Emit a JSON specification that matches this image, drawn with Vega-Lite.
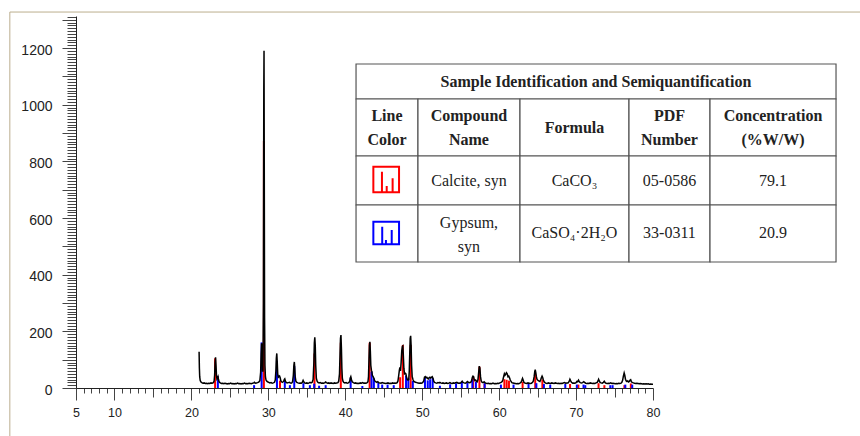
{
  "$schema": "https://vega.github.io/schema/vega-lite/v6.json",
  "width": 577,
  "height": 372,
  "autosize": "none",
  "padding": {"left": 76, "top": 16, "right": 207, "bottom": 48},
  "background": "white",
  "config": {"view": {"stroke": null}, "font": "Liberation Sans"},
  "encoding": {
    "x": {
      "type": "quantitative",
      "scale": {"domain": [5, 80], "nice": false, "zero": false},
      "axis": {
        "title": null, "grid": false,
        "values": [5,6,7,8,9,10,11,12,13,14,15,16,17,18,19,20,21,22,23,24,25,26,27,28,29,30,31,32,33,34,35,36,37,38,39,40,41,42,43,44,45,46,47,48,49,50,51,52,53,54,55,56,57,58,59,60,61,62,63,64,65,66,67,68,69,70,71,72,73,74,75,76,77,78,79,80],
        "format": "d",
        "labelExpr": "(datum.value % 10 === 0 || datum.value === 5) ? datum.label : ''",
        "labelOverlap": false, "labelFlush": false,
        "tickSize": {"condition": [{"test": "datum.value % 10 === 0 || datum.value === 5", "value": 12}, {"test": "datum.value % 5 === 0", "value": 9}], "value": 5},
        "tickColor": "#444444", "tickWidth": 1,
        "domainColor": "#222222", "domainWidth": 1,
        "labelFont": "Liberation Sans", "labelFontSize": 12.5, "labelColor": "#222222",
        "labelBaseline": "middle", "labelPadding": 12
      }
    },
    "y": {
      "type": "quantitative",
      "scale": {"domain": [0, 1313], "nice": false},
      "axis": {
        "title": null, "grid": false,
        "values": [0,10,20,30,40,50,60,70,80,90,100,110,120,130,140,150,160,170,180,190,200,210,220,230,240,250,260,270,280,290,300,310,320,330,340,350,360,370,380,390,400,410,420,430,440,450,460,470,480,490,500,510,520,530,540,550,560,570,580,590,600,610,620,630,640,650,660,670,680,690,700,710,720,730,740,750,760,770,780,790,800,810,820,830,840,850,860,870,880,890,900,910,920,930,940,950,960,970,980,990,1000,1010,1020,1030,1040,1050,1060,1070,1080,1090,1100,1110,1120,1130,1140,1150,1160,1170,1180,1190,1200,1210,1220,1230,1240,1250,1260,1270,1280,1290,1300,1310],
        "format": "d",
        "labelExpr": "datum.value % 200 === 0 ? datum.label : ''",
        "labelOverlap": false, "labelFlush": false,
        "tickSize": {"condition": {"test": "datum.value % 100 === 0", "value": 14}, "value": 9},
        "tickColor": "#444444", "tickWidth": 1,
        "domainColor": "#222222", "domainWidth": 1,
        "labelFont": "Liberation Sans", "labelFontSize": 14, "labelColor": "#222222",
        "labelPadding": 10, "labelOffset": 2
      }
    }
  },
  "datasets": {
    "obs": [
      {"t":21.00,"c":128},{"t":21.04,"c":70},{"t":21.08,"c":40},{"t":21.14,"c":27},{"t":21.22,"c":22},{"t":21.35,"c":19},{"t":21.5,"c":17},{"t":21.65,"c":18},{"t":21.8,"c":16},{"t":21.95,"c":17},{"t":22.1,"c":15},{"t":22.25,"c":17},{"t":22.4,"c":16},{"t":22.55,"c":18},{"t":22.7,"c":17},{"t":22.85,"c":19},{"t":22.95,"c":24},{"t":23.02,"c":45},{"t":23.08,"c":90},{"t":23.14,"c":108},{"t":23.2,"c":80},{"t":23.26,"c":45},{"t":23.32,"c":32},{"t":23.4,"c":36},{"t":23.46,"c":40},{"t":23.52,"c":30},{"t":23.6,"c":22},{"t":23.75,"c":18},{"t":23.9,"c":16},{"t":24.05,"c":17},{"t":24.2,"c":15},{"t":24.35,"c":17},{"t":24.5,"c":16},{"t":24.65,"c":14},{"t":24.8,"c":16},{"t":24.95,"c":15},{"t":25.1,"c":17},{"t":25.25,"c":15},{"t":25.4,"c":16},{"t":25.55,"c":14},{"t":25.7,"c":16},{"t":25.85,"c":15},{"t":26.0,"c":17},{"t":26.15,"c":15},{"t":26.3,"c":16},{"t":26.45,"c":14},{"t":26.6,"c":16},{"t":26.75,"c":15},{"t":26.9,"c":17},{"t":27.05,"c":15},{"t":27.2,"c":16},{"t":27.35,"c":15},{"t":27.5,"c":17},{"t":27.65,"c":16},{"t":27.8,"c":15},{"t":27.95,"c":17},{"t":28.1,"c":18},{"t":28.2,"c":20},{"t":28.3,"c":17},{"t":28.45,"c":18},{"t":28.6,"c":19},{"t":28.75,"c":21},{"t":28.9,"c":26},{"t":29.0,"c":55},{"t":29.06,"c":120},{"t":29.12,"c":158},{"t":29.18,"c":110},{"t":29.24,"c":60},{"t":29.3,"c":60},{"t":29.36,"c":300},{"t":29.41,"c":1050},{"t":29.44,"c":1190},{"t":29.47,"c":800},{"t":29.51,"c":250},{"t":29.56,"c":80},{"t":29.62,"c":40},{"t":29.7,"c":28},{"t":29.8,"c":24},{"t":29.9,"c":22},{"t":30.05,"c":20},{"t":30.2,"c":18},{"t":30.35,"c":19},{"t":30.5,"c":17},{"t":30.65,"c":18},{"t":30.8,"c":20},{"t":30.9,"c":28},{"t":30.98,"c":60},{"t":31.04,"c":105},{"t":31.1,"c":122},{"t":31.16,"c":90},{"t":31.22,"c":50},{"t":31.3,"c":38},{"t":31.38,"c":40},{"t":31.46,"c":42},{"t":31.54,"c":36},{"t":31.62,"c":26},{"t":31.72,"c":22},{"t":31.82,"c":20},{"t":31.92,"c":22},{"t":32.0,"c":24},{"t":32.08,"c":30},{"t":32.14,"c":32},{"t":32.22,"c":24},{"t":32.32,"c":20},{"t":32.45,"c":18},{"t":32.6,"c":19},{"t":32.75,"c":20},{"t":32.85,"c":18},{"t":32.95,"c":17},{"t":33.05,"c":18},{"t":33.15,"c":22},{"t":33.25,"c":45},{"t":33.32,"c":80},{"t":33.38,"c":92},{"t":33.44,"c":70},{"t":33.5,"c":38},{"t":33.58,"c":24},{"t":33.7,"c":20},{"t":33.85,"c":18},{"t":34.0,"c":17},{"t":34.15,"c":18},{"t":34.3,"c":17},{"t":34.42,"c":20},{"t":34.52,"c":27},{"t":34.6,"c":22},{"t":34.72,"c":18},{"t":34.85,"c":17},{"t":35.0,"c":18},{"t":35.15,"c":16},{"t":35.3,"c":18},{"t":35.42,"c":20},{"t":35.55,"c":18},{"t":35.7,"c":20},{"t":35.82,"c":30},{"t":35.92,"c":90},{"t":35.98,"c":160},{"t":36.04,"c":179},{"t":36.1,"c":150},{"t":36.16,"c":80},{"t":36.24,"c":35},{"t":36.34,"c":24},{"t":36.45,"c":20},{"t":36.6,"c":18},{"t":36.75,"c":19},{"t":36.9,"c":17},{"t":37.05,"c":18},{"t":37.2,"c":17},{"t":37.35,"c":19},{"t":37.45,"c":21},{"t":37.55,"c":19},{"t":37.7,"c":17},{"t":37.85,"c":18},{"t":38.0,"c":16},{"t":38.15,"c":18},{"t":38.3,"c":17},{"t":38.45,"c":16},{"t":38.6,"c":18},{"t":38.75,"c":17},{"t":38.9,"c":18},{"t":39.05,"c":19},{"t":39.15,"c":24},{"t":39.25,"c":50},{"t":39.32,"c":120},{"t":39.38,"c":175},{"t":39.44,"c":187},{"t":39.5,"c":140},{"t":39.56,"c":70},{"t":39.62,"c":35},{"t":39.7,"c":24},{"t":39.8,"c":20},{"t":39.95,"c":18},{"t":40.1,"c":19},{"t":40.25,"c":17},{"t":40.4,"c":18},{"t":40.5,"c":20},{"t":40.6,"c":26},{"t":40.66,"c":36},{"t":40.72,"c":40},{"t":40.8,"c":30},{"t":40.9,"c":22},{"t":41.05,"c":19},{"t":41.2,"c":17},{"t":41.35,"c":18},{"t":41.5,"c":16},{"t":41.65,"c":17},{"t":41.8,"c":16},{"t":41.95,"c":18},{"t":42.1,"c":17},{"t":42.25,"c":19},{"t":42.4,"c":17},{"t":42.55,"c":18},{"t":42.7,"c":17},{"t":42.85,"c":19},{"t":42.95,"c":22},{"t":43.02,"c":40},{"t":43.08,"c":100},{"t":43.14,"c":150},{"t":43.2,"c":163},{"t":43.26,"c":130},{"t":43.32,"c":80},{"t":43.4,"c":62},{"t":43.46,"c":58},{"t":43.52,"c":45},{"t":43.62,"c":40},{"t":43.72,"c":34},{"t":43.82,"c":26},{"t":43.95,"c":22},{"t":44.1,"c":20},{"t":44.22,"c":22},{"t":44.35,"c":19},{"t":44.5,"c":18},{"t":44.65,"c":17},{"t":44.8,"c":19},{"t":44.95,"c":18},{"t":45.1,"c":17},{"t":45.25,"c":16},{"t":45.4,"c":17},{"t":45.55,"c":18},{"t":45.7,"c":16},{"t":45.85,"c":17},{"t":46.0,"c":16},{"t":46.15,"c":18},{"t":46.3,"c":17},{"t":46.45,"c":18},{"t":46.6,"c":17},{"t":46.75,"c":19},{"t":46.85,"c":25},{"t":46.95,"c":45},{"t":47.03,"c":62},{"t":47.1,"c":73},{"t":47.18,"c":60},{"t":47.26,"c":90},{"t":47.34,"c":130},{"t":47.42,"c":146},{"t":47.48,"c":148},{"t":47.54,"c":120},{"t":47.62,"c":70},{"t":47.7,"c":50},{"t":47.8,"c":52},{"t":47.88,"c":50},{"t":47.95,"c":40},{"t":48.05,"c":30},{"t":48.15,"c":28},{"t":48.25,"c":30},{"t":48.32,"c":60},{"t":48.38,"c":120},{"t":48.44,"c":175},{"t":48.5,"c":184},{"t":48.56,"c":150},{"t":48.62,"c":80},{"t":48.7,"c":40},{"t":48.8,"c":30},{"t":48.9,"c":24},{"t":49.0,"c":22},{"t":49.15,"c":20},{"t":49.3,"c":19},{"t":49.45,"c":18},{"t":49.6,"c":17},{"t":49.75,"c":18},{"t":49.9,"c":17},{"t":50.05,"c":19},{"t":50.2,"c":25},{"t":50.3,"c":38},{"t":50.4,"c":40},{"t":50.5,"c":36},{"t":50.6,"c":38},{"t":50.7,"c":34},{"t":50.8,"c":32},{"t":50.9,"c":36},{"t":51.0,"c":38},{"t":51.1,"c":35},{"t":51.2,"c":38},{"t":51.3,"c":40},{"t":51.4,"c":34},{"t":51.5,"c":24},{"t":51.6,"c":20},{"t":51.75,"c":18},{"t":51.9,"c":17},{"t":52.05,"c":19},{"t":52.2,"c":18},{"t":52.3,"c":20},{"t":52.4,"c":18},{"t":52.55,"c":17},{"t":52.7,"c":18},{"t":52.85,"c":16},{"t":53.0,"c":17},{"t":53.15,"c":18},{"t":53.3,"c":16},{"t":53.45,"c":17},{"t":53.6,"c":19},{"t":53.75,"c":17},{"t":53.9,"c":16},{"t":54.05,"c":18},{"t":54.2,"c":17},{"t":54.35,"c":19},{"t":54.5,"c":20},{"t":54.65,"c":17},{"t":54.8,"c":18},{"t":54.95,"c":17},{"t":55.1,"c":21},{"t":55.2,"c":24},{"t":55.3,"c":20},{"t":55.45,"c":18},{"t":55.6,"c":17},{"t":55.75,"c":19},{"t":55.88,"c":23},{"t":56.0,"c":20},{"t":56.15,"c":19},{"t":56.3,"c":20},{"t":56.42,"c":26},{"t":56.52,"c":38},{"t":56.6,"c":42},{"t":56.68,"c":40},{"t":56.76,"c":30},{"t":56.85,"c":26},{"t":56.95,"c":28},{"t":57.05,"c":24},{"t":57.15,"c":22},{"t":57.25,"c":30},{"t":57.34,"c":55},{"t":57.42,"c":77},{"t":57.5,"c":70},{"t":57.58,"c":40},{"t":57.66,"c":26},{"t":57.75,"c":21},{"t":57.85,"c":19},{"t":57.95,"c":19},{"t":58.05,"c":22},{"t":58.15,"c":19},{"t":58.3,"c":17},{"t":58.45,"c":16},{"t":58.6,"c":17},{"t":58.75,"c":15},{"t":58.9,"c":16},{"t":59.05,"c":15},{"t":59.2,"c":17},{"t":59.35,"c":15},{"t":59.5,"c":16},{"t":59.65,"c":15},{"t":59.8,"c":17},{"t":59.95,"c":16},{"t":60.1,"c":18},{"t":60.25,"c":20},{"t":60.4,"c":23},{"t":60.5,"c":30},{"t":60.6,"c":42},{"t":60.68,"c":50},{"t":60.76,"c":45},{"t":60.85,"c":48},{"t":60.95,"c":54},{"t":61.05,"c":50},{"t":61.15,"c":40},{"t":61.25,"c":42},{"t":61.35,"c":36},{"t":61.45,"c":28},{"t":61.55,"c":23},{"t":61.65,"c":19},{"t":61.8,"c":18},{"t":61.95,"c":17},{"t":62.1,"c":16},{"t":62.25,"c":15},{"t":62.4,"c":16},{"t":62.55,"c":15},{"t":62.7,"c":17},{"t":62.85,"c":20},{"t":62.95,"c":27},{"t":63.04,"c":34},{"t":63.12,"c":28},{"t":63.2,"c":21},{"t":63.3,"c":18},{"t":63.45,"c":17},{"t":63.6,"c":16},{"t":63.75,"c":18},{"t":63.9,"c":17},{"t":64.05,"c":16},{"t":64.2,"c":17},{"t":64.35,"c":20},{"t":64.45,"c":25},{"t":64.55,"c":40},{"t":64.63,"c":58},{"t":64.69,"c":65},{"t":64.76,"c":55},{"t":64.84,"c":40},{"t":64.92,"c":31},{"t":65.0,"c":28},{"t":65.1,"c":26},{"t":65.2,"c":24},{"t":65.3,"c":23},{"t":65.4,"c":29},{"t":65.5,"c":37},{"t":65.58,"c":42},{"t":65.66,"c":37},{"t":65.75,"c":28},{"t":65.85,"c":22},{"t":65.95,"c":19},{"t":66.1,"c":17},{"t":66.25,"c":16},{"t":66.4,"c":18},{"t":66.55,"c":17},{"t":66.7,"c":16},{"t":66.85,"c":18},{"t":67.0,"c":17},{"t":67.15,"c":16},{"t":67.3,"c":18},{"t":67.45,"c":17},{"t":67.6,"c":16},{"t":67.75,"c":17},{"t":67.9,"c":15},{"t":68.05,"c":17},{"t":68.2,"c":16},{"t":68.35,"c":18},{"t":68.5,"c":19},{"t":68.65,"c":17},{"t":68.8,"c":18},{"t":68.95,"c":18},{"t":69.1,"c":23},{"t":69.2,"c":31},{"t":69.3,"c":25},{"t":69.4,"c":20},{"t":69.55,"c":17},{"t":69.7,"c":18},{"t":69.85,"c":17},{"t":70.0,"c":19},{"t":70.1,"c":23},{"t":70.2,"c":22},{"t":70.32,"c":28},{"t":70.42,"c":22},{"t":70.55,"c":19},{"t":70.7,"c":18},{"t":70.85,"c":19},{"t":71.0,"c":22},{"t":71.1,"c":20},{"t":71.25,"c":17},{"t":71.4,"c":16},{"t":71.55,"c":17},{"t":71.7,"c":16},{"t":71.85,"c":18},{"t":72.0,"c":17},{"t":72.15,"c":16},{"t":72.3,"c":17},{"t":72.45,"c":16},{"t":72.6,"c":18},{"t":72.75,"c":20},{"t":72.85,"c":25},{"t":72.93,"c":31},{"t":73.02,"c":25},{"t":73.12,"c":20},{"t":73.25,"c":18},{"t":73.4,"c":17},{"t":73.55,"c":20},{"t":73.67,"c":24},{"t":73.78,"c":19},{"t":73.9,"c":17},{"t":74.05,"c":16},{"t":74.2,"c":17},{"t":74.35,"c":16},{"t":74.5,"c":18},{"t":74.65,"c":16},{"t":74.8,"c":17},{"t":74.95,"c":16},{"t":75.1,"c":15},{"t":75.25,"c":16},{"t":75.4,"c":15},{"t":75.55,"c":17},{"t":75.7,"c":16},{"t":75.85,"c":17},{"t":75.95,"c":20},{"t":76.05,"c":27},{"t":76.15,"c":42},{"t":76.25,"c":53},{"t":76.33,"c":45},{"t":76.42,"c":31},{"t":76.52,"c":25},{"t":76.62,"c":23},{"t":76.72,"c":25},{"t":76.82,"c":21},{"t":76.92,"c":23},{"t":77.0,"c":27},{"t":77.1,"c":29},{"t":77.2,"c":22},{"t":77.3,"c":20},{"t":77.45,"c":18},{"t":77.6,"c":17},{"t":77.75,"c":16},{"t":77.9,"c":17},{"t":78.05,"c":16},{"t":78.2,"c":15},{"t":78.35,"c":16},{"t":78.5,"c":15},{"t":78.65,"c":14},{"t":78.8,"c":15},{"t":78.95,"c":14},{"t":79.1,"c":15},{"t":79.25,"c":14},{"t":79.4,"c":15},{"t":79.55,"c":13},{"t":79.7,"c":14},{"t":79.85,"c":13},{"t":80.0,"c":13}
    ],
    "sticks": [
      {"p":"Calcite","t":23.08,"c":105},{"p":"Calcite","t":29.42,"c":872},{"p":"Calcite","t":31.52,"c":26},{"p":"Calcite","t":36.0,"c":122},{"p":"Calcite","t":39.42,"c":160},{"p":"Calcite","t":43.17,"c":160},{"p":"Calcite","t":47.13,"c":38},{"p":"Calcite","t":47.48,"c":152},{"p":"Calcite","t":48.5,"c":152},{"p":"Calcite","t":56.62,"c":40},{"p":"Calcite","t":57.44,"c":75},{"p":"Calcite","t":58.1,"c":15},{"p":"Calcite","t":60.68,"c":31},{"p":"Calcite","t":60.98,"c":29},{"p":"Calcite","t":61.28,"c":26},{"p":"Calcite","t":63.05,"c":22},{"p":"Calcite","t":64.69,"c":50},{"p":"Calcite","t":65.62,"c":30},{"p":"Calcite","t":69.22,"c":14},{"p":"Calcite","t":70.3,"c":12},{"p":"Calcite","t":72.92,"c":17},{"p":"Calcite","t":73.68,"c":10},{"p":"Calcite","t":76.28,"c":10},{"p":"Calcite","t":77.12,"c":16},
      {"p":"Gypsum","t":23.44,"c":42},{"p":"Gypsum","t":28.15,"c":10},{"p":"Gypsum","t":29.13,"c":161},{"p":"Gypsum","t":31.12,"c":96},{"p":"Gypsum","t":32.14,"c":28},{"p":"Gypsum","t":32.8,"c":10},{"p":"Gypsum","t":33.37,"c":78},{"p":"Gypsum","t":34.56,"c":17},{"p":"Gypsum","t":35.4,"c":10},{"p":"Gypsum","t":35.96,"c":15},{"p":"Gypsum","t":36.6,"c":8},{"p":"Gypsum","t":37.45,"c":10},{"p":"Gypsum","t":40.7,"c":36},{"p":"Gypsum","t":42.22,"c":7},{"p":"Gypsum","t":43.42,"c":58},{"p":"Gypsum","t":43.72,"c":34},{"p":"Gypsum","t":44.3,"c":18},{"p":"Gypsum","t":44.8,"c":12},{"p":"Gypsum","t":45.5,"c":12},{"p":"Gypsum","t":46.3,"c":10},{"p":"Gypsum","t":47.9,"c":44},{"p":"Gypsum","t":48.2,"c":34},{"p":"Gypsum","t":48.78,"c":25},{"p":"Gypsum","t":50.36,"c":38},{"p":"Gypsum","t":50.72,"c":27},{"p":"Gypsum","t":51.03,"c":31},{"p":"Gypsum","t":51.36,"c":35},{"p":"Gypsum","t":52.3,"c":8},{"p":"Gypsum","t":53.63,"c":13},{"p":"Gypsum","t":54.4,"c":17},{"p":"Gypsum","t":55.15,"c":22},{"p":"Gypsum","t":55.88,"c":19},{"p":"Gypsum","t":56.52,"c":30},{"p":"Gypsum","t":56.98,"c":22},{"p":"Gypsum","t":58.12,"c":17},{"p":"Gypsum","t":60.23,"c":12},{"p":"Gypsum","t":61.87,"c":12},{"p":"Gypsum","t":63.82,"c":15},{"p":"Gypsum","t":64.84,"c":17},{"p":"Gypsum","t":65.82,"c":14},{"p":"Gypsum","t":66.64,"c":12},{"p":"Gypsum","t":68.6,"c":14},{"p":"Gypsum","t":70.1,"c":12},{"p":"Gypsum","t":70.97,"c":12},{"p":"Gypsum","t":71.2,"c":10},{"p":"Gypsum","t":74.45,"c":10},{"p":"Gypsum","t":74.75,"c":10},{"p":"Gypsum","t":76.4,"c":12},{"p":"Gypsum","t":77.3,"c":12}
    ],
    "cells": [
      {"x0":41.40,"x1":103.79,"y0":1020.0,"y1":1143.6},
      {"x0":41.40,"x1":49.45,"y0":818.9,"y1":1020.0},{"x0":49.45,"x1":62.71,"y0":818.9,"y1":1020.0},{"x0":62.71,"x1":76.88,"y0":818.9,"y1":1020.0},{"x0":76.88,"x1":87.41,"y0":818.9,"y1":1020.0},{"x0":87.41,"x1":103.79,"y0":818.9,"y1":1020.0},
      {"x0":41.40,"x1":49.45,"y0":645.9,"y1":818.9},{"x0":49.45,"x1":62.71,"y0":645.9,"y1":818.9},{"x0":62.71,"x1":76.88,"y0":645.9,"y1":818.9},{"x0":76.88,"x1":87.41,"y0":645.9,"y1":818.9},{"x0":87.41,"x1":103.79,"y0":645.9,"y1":818.9},
      {"x0":41.40,"x1":49.45,"y0":444.7,"y1":645.9},{"x0":49.45,"x1":62.71,"y0":444.7,"y1":645.9},{"x0":62.71,"x1":76.88,"y0":444.7,"y1":645.9},{"x0":76.88,"x1":87.41,"y0":444.7,"y1":645.9},{"x0":87.41,"x1":103.79,"y0":444.7,"y1":645.9}
    ],
    "heads": [
      {"x":72.58,"y":1081.8,"txt":"Sample Identification and Semiquantification"},
      {"x":45.42,"y":960.0,"txt":"Line\nColor"},
      {"x":56.08,"y":960.0,"txt":"Compound\nName"},
      {"x":69.79,"y":917.6,"txt":"Formula"},
      {"x":82.14,"y":960.0,"txt":"PDF\nNumber"},
      {"x":95.6,"y":960.0,"txt":"Concentration\n(%W/W)"}
    ],
    "body": [
      {"x":56.08,"y":731.6,"txt":"Calcite, syn"},
      {"x":69.79,"y":731.6,"txt":"CaCO₃"},
      {"x":82.14,"y":731.6,"txt":"05-0586"},
      {"x":95.6,"y":731.6,"txt":"79.1"},
      {"x":56.08,"y":581.3,"txt":"Gypsum,\nsyn"},
      {"x":69.79,"y":546,"txt":"CaSO₄·2H₂O"},
      {"x":82.14,"y":546,"txt":"33-0311"},
      {"x":95.6,"y":546,"txt":"20.9"}
    ],
    "icons": [
      {"p":"Calcite","x":45.32,"y":735.9},
      {"p":"Gypsum","x":45.32,"y":547.1}
    ]
  },
  "layer": [
    {
      "data": {"values": [{}]},
      "mark": {"type": "rect", "fillOpacity": 0, "stroke": "#BBAE8E", "strokeWidth": 1},
      "encoding": {
        "x": {"datum": -3.6},
        "x2": {"datum": 150},
        "y": {"datum": 1327},
        "y2": {"datum": -500}
      }
    },
    {
      "data": {"name": "sticks"},
      "mark": {"type": "rule", "strokeWidth": 2},
      "encoding": {
        "x": {"field": "t"},
        "y": {"field": "c"},
        "y2": {"datum": 0},
        "color": {"field": "p", "type": "nominal", "scale": {"domain": ["Calcite", "Gypsum"], "range": ["#FF0000", "#0000FF"]}, "legend": null}
      }
    },
    {
      "data": {"name": "obs"},
      "mark": {"type": "line", "color": "#000000", "strokeWidth": 1.5},
      "encoding": {
        "x": {"field": "t"},
        "y": {"field": "c"}
      }
    },
    {
      "data": {"name": "cells"},
      "mark": {"type": "rect", "fill": "white", "stroke": "#555555", "strokeWidth": 1.2},
      "encoding": {
        "x": {"field": "x0"},
        "x2": {"field": "x1"},
        "y": {"field": "y0"},
        "y2": {"field": "y1"}
      }
    },
    {
      "data": {"name": "heads"},
      "mark": {"type": "text", "font": "Liberation Serif", "fontSize": 16, "fontWeight": "bold", "color": "#222222", "align": "center", "baseline": "middle", "lineBreak": "\n", "lineHeight": 24},
      "encoding": {
        "x": {"field": "x"},
        "y": {"field": "y"},
        "text": {"field": "txt", "type": "nominal"}
      }
    },
    {
      "data": {"name": "body"},
      "mark": {"type": "text", "font": "Liberation Serif", "fontSize": 16, "color": "#222222", "align": "center", "baseline": "middle", "lineBreak": "\n", "lineHeight": 24},
      "encoding": {
        "x": {"field": "x"},
        "y": {"field": "y"},
        "text": {"field": "txt", "type": "nominal"}
      }
    },
    {
      "data": {"name": "icons"},
      "mark": {"type": "point", "filled": false, "strokeWidth": 2, "size": 660, "opacity": 1},
      "encoding": {
        "x": {"field": "x"},
        "y": {"field": "y"},
        "shape": {"field": "p", "type": "nominal", "scale": {"domain": ["Calcite", "Gypsum"], "range": ["M-1,-1H1V1H-1Z M-0.33,1V-0.6 M0.04,1V0.5 M0.5,1V-0.1", "M-1,-0.88H1V0.88H-1Z M-0.31,0.88V-0.49 M-0.02,0.88V0.55 M0.43,0.88V-0.23"]}, "legend": null},
        "color": {"field": "p", "type": "nominal", "scale": {"domain": ["Calcite", "Gypsum"], "range": ["#FF0000", "#0000FF"]}, "legend": null}
      }
    }
  ]
}
